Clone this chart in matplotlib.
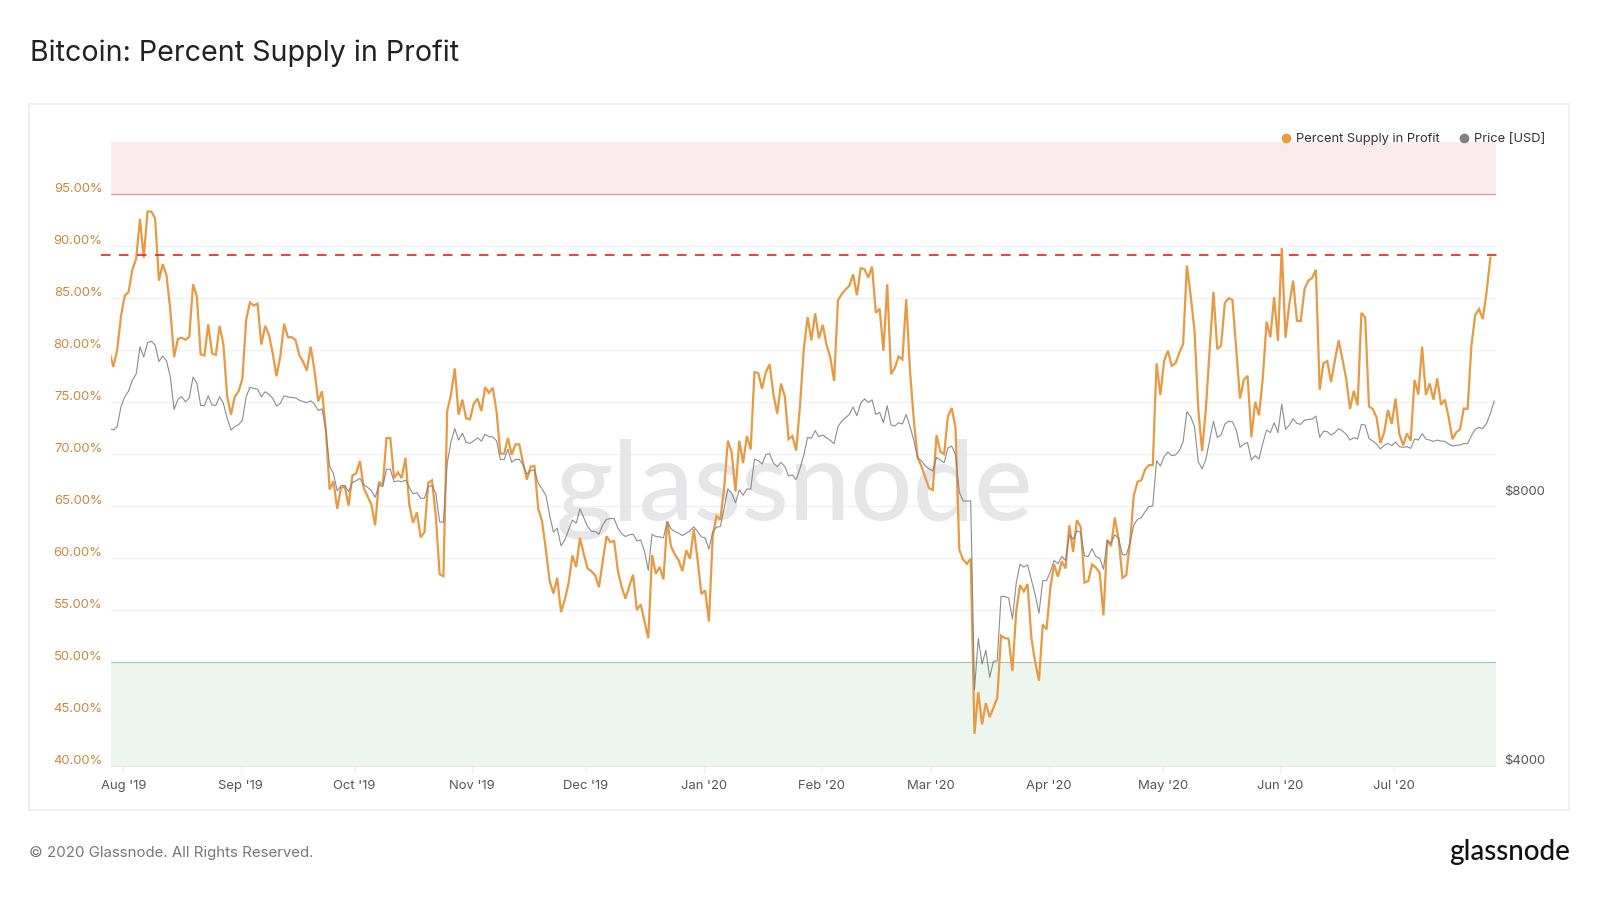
import pandas as pd
import matplotlib.pyplot as plt
from matplotlib.lines import Line2D
from matplotlib.transforms import ScaledTranslation

plt.rcParams['font.family'] = ['Inter', 'DejaVu Sans']

# daily values, first day is 28 Jul 2019
supply_in_profit = [
    79.8, 78.4, 80.05, 83.3, 85.25, 85.6, 87.75, 88.8, 92.65, 88.9, 93.35, 93.35, 92.7, 86.7, 88.3, 87.2, 83.9, 79.35,
    81.1, 81.2, 81.0, 81.3, 86.35, 85.2, 79.6, 79.5, 82.5, 79.7, 79.55, 82.35, 80.55, 75.55, 73.8, 75.55, 76.05, 77.25,
    82.95, 84.6, 84.3, 84.5, 80.55, 82.35, 81.5, 79.7, 77.5, 79.4, 82.55, 81.25, 81.25, 81.0, 79.55, 78.9, 78.05, 80.35,
    78.1, 75.1, 76.05, 72.35, 66.6, 67.4,
    64.75, 66.75, 66.9, 65.05, 67.95, 68.15, 69.35, 66.75, 65.95, 65.15, 63.15, 67.35, 67.0, 71.55, 71.55, 67.7, 68.25,
    67.7, 69.65, 65.15, 63.4, 64.4, 62.0, 62.5, 67.25, 67.5, 64.05, 58.45, 58.25, 74.15, 75.75, 78.25, 73.8, 75.25,
    73.45, 73.35, 74.85, 75.35, 74.15, 76.45, 75.9, 76.4, 74.15, 70.05, 70.05, 71.55, 69.95, 70.95, 70.95, 69.15, 67.55,
    68.8, 68.85, 64.75, 63.55, 60.85, 57.8, 56.6, 58.1, 54.8, 56.0,
    57.6, 60.25, 59.15, 61.95, 60.4, 59.0, 58.75, 58.35, 57.2, 59.7, 62.1, 61.55, 61.65, 58.75, 57.2, 56.1, 57.3, 58.4,
    55.0, 55.55, 53.95, 52.3, 60.3, 58.5, 59.15, 57.95, 63.55, 61.15, 60.35, 59.8, 58.75, 60.75, 59.95, 62.8, 59.85,
    56.55, 56.9, 53.9, 62.1, 64.05, 63.7, 66.75, 71.3, 70.15, 66.4, 71.3, 69.15, 71.75, 70.45, 77.9, 77.8, 76.3, 77.9,
    78.65, 75.75, 73.9, 76.8, 75.55, 71.45, 71.75,
    70.35, 74.7, 80.1, 83.2, 80.95, 83.55, 81.15, 82.45, 80.5, 79.3, 77.05, 84.8, 85.4, 85.85, 86.2, 87.3, 85.3, 87.9,
    87.8, 87.0, 88.05, 83.6, 84.0, 79.95, 86.35, 77.7, 78.3, 79.4, 79.1, 84.9, 78.0, 73.35, 69.7, 68.85, 67.8, 66.75,
    66.55, 71.85, 70.25, 70.0, 73.65, 74.45, 72.55, 60.8, 59.85, 59.45, 59.95, 43.1, 47.1, 44.0, 46.05, 44.7, 45.6,
    46.55, 52.55, 52.3, 52.25, 49.15, 54.9, 57.4, 56.8, 57.5, 52.3, 50.0,
    48.2, 53.6, 53.15, 57.15, 59.4, 58.2, 59.7, 59.0, 63.15, 60.6, 63.65, 63.0, 57.65, 57.8, 59.4, 59.1, 58.6, 54.5,
    61.75, 61.15, 63.9, 61.8, 58.1, 58.35, 61.5, 66.05, 67.35, 67.5, 68.55, 68.95, 68.95, 78.75, 75.7, 79.0, 79.95,
    78.5, 78.75, 79.75, 80.6, 88.15, 85.25, 81.9, 74.35, 70.3, 74.35, 80.1, 85.6, 80.1, 80.45, 84.55, 85.0, 84.85,
    80.1, 75.35, 77.15, 77.55, 71.65, 75.05, 73.75,
    77.25, 82.75, 81.25, 85.1, 80.9, 89.85, 81.2, 84.45, 86.7, 82.85, 82.8, 85.9, 86.7, 86.95, 87.75, 76.2, 78.75,
    78.95, 76.95, 79.0, 80.95, 79.15, 77.25, 74.35, 76.1, 74.7, 83.6, 83.15, 74.6, 74.35, 73.55, 71.05, 72.1, 74.25,
    72.9, 75.35, 71.95, 70.85, 72.0, 71.3, 77.15, 75.75, 80.35, 75.7, 76.8, 75.25, 77.3, 74.75, 75.25, 73.55, 71.45,
    72.1, 72.4, 74.4, 74.35, 80.45, 83.4, 83.95, 83.0, 85.6, 88.9,
]
price_usd = [
    9554, 9521, 9603, 10110, 10374, 10528, 10827, 10999, 11804, 11497, 11924, 11974, 11853, 11362, 11526, 11381, 10922,
    10039, 10301, 10374, 10240, 10346, 10913, 10750, 10145, 10137, 10401, 10154, 10145, 10374, 10197, 9809, 9521, 9603,
    9652, 9766, 10374, 10626, 10599, 10580, 10374, 10510, 10438, 10328, 10128, 10197, 10401, 10365, 10356, 10346, 10283,
    10249, 10214, 10266, 10180, 10015, 10056, 9521, 8670, 8510,
    8136, 8248, 8248, 8122, 8318, 8353, 8404, 8262, 8213, 8143, 8003, 8262, 8227, 8603, 8603, 8332, 8346, 8332, 8367,
    8213, 8073, 8101, 7982, 7982, 8227, 8248, 8087, 7510, 7504, 8736, 9237, 9554, 9276, 9439, 9222, 9198, 9260, 9333,
    9253, 9415, 9358, 9350, 9260, 8826, 8818, 9058, 8758, 8826, 8826, 8699, 8500, 8574, 8589, 8297, 8178, 8045, 7648,
    7314, 7390, 7061, 7169,
    7359, 7548, 7485, 7767, 7595, 7422, 7333, 7327, 7276, 7453, 7561, 7575, 7575, 7390, 7283, 7232, 7264, 7276, 7151,
    7169, 6959, 6628, 7276, 7232, 7226, 7207, 7516, 7377, 7327, 7295, 7251, 7295, 7340, 7415, 7327, 7226, 7207, 7001,
    7327, 7409, 7422, 7781, 8178, 8087, 7894, 8157, 8045, 8178, 8171, 8833, 8795, 8721, 8934, 8958, 8736, 8662, 8758,
    8662, 8456, 8478,
    8375, 8626, 8926, 9341, 9317, 9505, 9358, 9398, 9333, 9268, 9191, 9603, 9741, 9826, 9912, 10102, 9878, 10197, 10319,
    10223, 10292, 9912, 9963, 9701, 10136, 9643, 9619, 9701, 9668, 9912, 9603, 9276, 8864, 8795, 8685, 8611, 8567, 8872,
    8810, 8751, 9089, 9136, 8927, 8108, 7927, 7927, 7927, 4871, 5556, 5205, 5392, 5029, 5240, 5249, 6196, 6196, 6169,
    5848, 6412, 6735, 6683, 6723, 6466, 6223,
    5936, 6455, 6455, 6603, 6798, 6740, 6869, 6798, 7264, 7182, 7340, 7308, 6881, 6869, 7007, 6869, 6839, 6649, 7157,
    7109, 7264, 7201, 6899, 6899, 7109, 7453, 7561, 7595, 7714, 7814, 7827, 8795, 8677, 8888, 8996, 8911, 8927, 9028,
    9237, 9981, 9852, 9603, 8773, 8611, 8826, 9276, 9741, 9341, 9398, 9668, 9741, 9725, 9521, 9105, 9183, 9214, 8810,
    8911, 8833,
    9198, 9521, 9456, 9701, 9456, 10180, 9537, 9643, 9801, 9684, 9660, 9766, 9783, 9792, 9869, 9341, 9488, 9480, 9399,
    9456, 9554, 9496, 9415, 9276, 9333, 9301, 9660, 9643, 9317, 9253, 9183, 9066, 9152, 9198, 9144, 9229, 9121, 9105,
    9121, 9082, 9301, 9276, 9431, 9301, 9276, 9245, 9276, 9253, 9245, 9183, 9136, 9152, 9160, 9191, 9191, 9382, 9537,
    9586, 9554, 9684, 9938, 10257,
]
pct_ticks = [40, 45, 50, 55, 60, 65, 70, 75, 80, 85, 90, 95]
price_ticks = [4000, 8000]
month_starts = ['2019-08-01', '2019-09-01', '2019-10-01', '2019-11-01', '2019-12-01', '2020-01-01',
                '2020-02-01', '2020-03-01', '2020-04-01', '2020-05-01', '2020-06-01', '2020-07-01']
month_labels = ["Aug '19", "Sep '19", "Oct '19", "Nov '19", "Dec '19", "Jan '20",
                "Feb '20", "Mar '20", "Apr '20", "May '20", "Jun '20", "Jul '20"]
ath_level = 89.14

orange = '#E79A42'
grey = '#808085'
W, H = 1600, 897

price_dates = pd.date_range('2019-07-28 10:00', periods=len(price_usd), freq='D')
supply_dates = price_dates[:len(supply_in_profit)]


def px_rect(left, top, right, bottom):
    return [left / W, 1 - bottom / H, (right - left) / W, (bottom - top) / H]


fig = plt.figure(figsize=(W / 100, H / 100), dpi=100, facecolor='white')

# panel frame
frame = fig.add_axes(px_rect(29, 104, 1569, 810))
frame.set_xticks([])
frame.set_yticks([])
for s in frame.spines.values():
    s.set_color('#ECEEF0')
    s.set_linewidth(1.3)

ax = fig.add_axes(px_rect(111.4, 142.4, 1496, 766))
ax.set_facecolor('none')
ax.set_xlim(pd.Timestamp('2019-08-01') - pd.Timedelta(days=3.11), pd.Timestamp('2019-08-01') + pd.Timedelta(days=361.9))
ax.set_ylim(40, 100)
for s in ax.spines.values():
    s.set_visible(False)

# background bands and thresholds
ax.axhspan(95, 100, color='#FAEAEB', lw=0, zorder=0)
ax.axhspan(40, 50, color='#ECF5EE', lw=0, zorder=0)
ax.axhline(95, color='#F28B8B', lw=0.8, zorder=1)
ax.axhline(50, color='#9CCDA8', lw=0.8, zorder=1)
ax.grid(axis='y', color='#F1F2F3', lw=1, zorder=0.5)
ax.set_axisbelow(True)

ax.text(0.4935, 0.443, 'glassnode', transform=ax.transAxes, ha='center', va='center', fontsize=79,
        fontweight='medium', family=['Lato', 'DejaVu Sans'], color='#E6E6E9', zorder=0.8)

ax.plot(supply_dates, supply_in_profit, color=orange, lw=1.6, solid_joinstyle='miter', zorder=3)

ax.plot([-0.0075, 1.0015], [ath_level, ath_level], transform=ax.get_yaxis_transform(), clip_on=False,
        color='#EE1C25', lw=1.2, dashes=(5.7, 5.1), zorder=4)

ax.set_yticks(pct_ticks)
ax.set_yticklabels([f'{v:.2f}%' for v in pct_ticks])
ax.tick_params(axis='y', length=0, pad=6.4, labelsize=9.4, labelcolor='#C68A3E')
shift_up = ScaledTranslation(0, 7 / 100, fig.dpi_scale_trans)
for lab in ax.get_yticklabels():
    lab.set_transform(lab.get_transform() + shift_up)

ax.set_xticks(pd.to_datetime(month_starts))
ax.set_xticklabels(month_labels)
ax.tick_params(axis='x', length=5, width=1, color='#EEF0F2', pad=5, labelsize=9.4, labelcolor='#555555')
ax.spines['bottom'].set_visible(True)
ax.spines['bottom'].set_color('#E6E9EC')

# price on its own log axis
ax2 = ax.twinx()
ax2.set_yscale('log')
ax2.set_ylim(4000, 20000)
for s in ax2.spines.values():
    s.set_visible(False)
ax2.plot(price_dates, price_usd, color=grey, lw=0.8, alpha=0.9, zorder=3)
ax2.set_yticks(price_ticks)
ax2.set_yticklabels([f'${v}' for v in price_ticks])
ax2.minorticks_off()
ax2.tick_params(axis='y', which='both', length=0, pad=6, labelsize=9.4, labelcolor='#555555')
for lab in ax2.get_yticklabels():
    lab.set_transform(lab.get_transform() + shift_up)

handles = [
    Line2D([], [], ls='none', marker='o', ms=7, mew=0, color=orange, label='Percent Supply in Profit'),
    Line2D([], [], ls='none', marker='o', ms=7, mew=0, color=grey, label='Price [USD]'),
]
ax2.legend(handles=handles, loc='center right', bbox_to_anchor=(1545 / W, 1 - 139.3 / H),
           bbox_transform=fig.transFigure, ncol=2, frameon=False, fontsize=9.3, labelcolor='#333333',
           handlelength=0.8, handletextpad=0.35, columnspacing=1.5, borderpad=0, borderaxespad=0)

fig.text(29.5 / W, 1 - 60.7 / H, 'Bitcoin: Percent Supply in Profit', fontsize=20.6, color='#222222',
         ha='left', va='baseline')
fig.text(29 / W, 1 - 853 / H, '© 2020 Glassnode. All Rights Reserved.', fontsize=10.8, color='#777777',
         ha='left', va='center')
fig.text(1570 / W, 1 - 860 / H, 'glassnode', fontsize=20, fontweight='medium', family=['Lato', 'DejaVu Sans'],
         color='#111111', ha='right', va='baseline')

fig.savefig('out.png', dpi=100)
